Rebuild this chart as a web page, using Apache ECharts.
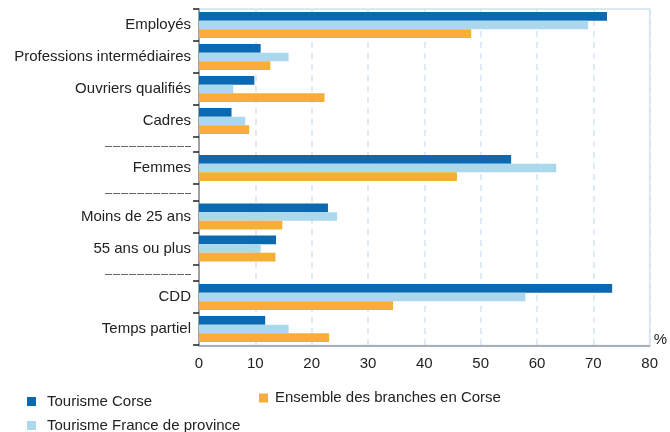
<!DOCTYPE html>
<html>
<head>
<meta charset="utf-8">
<script src="https://cdn.jsdelivr.net/npm/echarts@6/dist/echarts.min.js"></script>
<style>html,body{margin:0;padding:0;background:#fff}#c{width:670px;height:432px}</style>
</head>
<body>
<div id="c"></div>
<script>
// ---- data ----
const categories = ['Employés', 'Professions intermédiaires', 'Ouvriers qualifiés', 'Cadres',
  'Femmes', 'Moins de 25 ans', '55 ans ou plus', 'CDD', 'Temps partiel'];
const groupSizes = [4, 1, 2, 2];
const seriesNames = ['Tourisme Corse', 'Tourisme France de province', 'Ensemble des branches en Corse'];
const tourismeCorse = [71.5, 10.8, 9.7, 5.7, 54.7, 22.6, 13.5, 72.4, 11.6];
const tourismeFrance = [68.2, 15.7, 6.0, 8.1, 62.6, 24.2, 10.8, 57.2, 15.7];
const ensembleCorse = [47.7, 12.5, 22.0, 8.8, 45.2, 14.6, 13.4, 34.0, 22.8];
const xMin = 0, xMax = 80, xInterval = 10;
const axisUnit = '%';

// ---- layout ----
const colors = ['#0a69b1', '#acd8ee', '#f5ae36'];
const values = [tourismeCorse, tourismeFrance, ensembleCorse];
const plotLeft = 199, plotWidth = 456.5, plotTop = 9;
const slot = 32, sepGap = [15, 16.5, 16.5];
const font = 'Liberation Sans, Arial, Helvetica, sans-serif';

const grids = [{left: plotLeft, top: plotTop, width: plotWidth, height: 336.5, show: true,
  borderColor: '#d0e2f2', borderWidth: 1.5, backgroundColor: 'transparent'}];
const xAxes = [{gridIndex: 0, type: 'value', min: xMin, max: xMax, interval: xInterval,
  name: axisUnit, nameLocation: 'end', nameGap: 4,
  nameTextStyle: {fontSize: 15, color: '#222', fontFamily: font, verticalAlign: 'bottom', padding: [0,0,-2,0]},
  axisLine: {show: true, lineStyle: {color: '#9a9a9a', width: 1.5}},
  axisTick: {show: false},
  axisLabel: {fontSize: 15, color: '#222', fontFamily: font, margin: 11},
  splitLine: {show: true, lineStyle: {color: '#d4e4f3', width: 1.5, type: [6, 5]}}
}];
const yAxes = [{gridIndex: 0, type: 'value', min: 0, max: 1,
  axisLine: {show: true, lineStyle: {color: '#8a8a8a', width: 1.5}},
  axisTick: {show: false}, axisLabel: {show: false}, splitLine: {show: false}}];
const series = [];
const graphics = [];
let curTop = plotTop, start = 0;
groupSizes.forEach((n, gi) => {
  const gIdx = gi + 1;
  const h = n * slot;
  grids.push({left: plotLeft, top: curTop, width: plotWidth, height: h});
  xAxes.push({gridIndex: gIdx, type: 'value', min: xMin, max: xMax, interval: xInterval, show: false,
    splitLine: {show: false}});
  const cats = categories.slice(start, start + n);
  yAxes.push({gridIndex: gIdx, type: 'category', data: cats, inverse: true,
    axisLine: {show: false},
    axisTick: {show: true, length: 6, lineStyle: {color: '#222', width: 1.5}},
    axisLabel: {fontSize: 15, color: '#222', fontFamily: font, margin: 8},
    splitLine: {show: false}});
  seriesNames.forEach((name, si) => {
    series.push({name: name, type: 'bar', xAxisIndex: gIdx, yAxisIndex: gIdx,
      data: values[si].slice(start, start + n),
      itemStyle: {color: colors[si]},
      barGap: '0%', barCategoryGap: '19%', animation: false});
  });
  curTop += h;
  if (gi < sepGap.length) {
    const yLine = Math.round(curTop + sepGap[gi] / 2 + 1) + 0.5;
    graphics.push({type: 'line', shape: {x1: 105, y1: yLine, x2: 191, y2: yLine},
      style: {stroke: '#666', lineWidth: 1, lineDash: [7, 1]}});
    curTop += sepGap[gi];
  }
  start += n;
});

const legendBase = {orient: 'horizontal', padding: 0, itemWidth: 9, itemHeight: 9, icon: 'rect',
  textStyle: {fontSize: 15, color: '#222', fontFamily: font, padding: [0, 0, 0, 6]}};
const legends = [
  Object.assign({}, legendBase, {data: [seriesNames[0]], left: 27, top: 394}),
  Object.assign({}, legendBase, {data: [seriesNames[2]], left: 259, top: 390.5,
    textStyle: Object.assign({}, legendBase.textStyle, {padding: [0, 0, 0, 2]})}),
  Object.assign({}, legendBase, {data: [seriesNames[1]], left: 27, top: 418})
];

const chart = echarts.init(document.getElementById('c'), null, {renderer: 'canvas'});
chart.setOption({
  animation: false,
  grid: grids, xAxis: xAxes, yAxis: yAxes, series: series,
  legend: legends, graphic: graphics
});
</script>
</body>
</html>
